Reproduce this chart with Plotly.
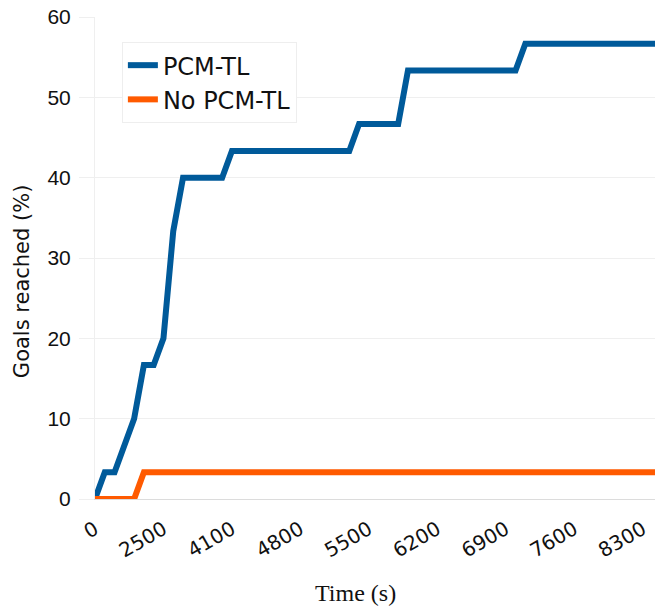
import plotly.graph_objects as go

# Elapsed time (s) at each sample; the axis treats them as evenly spaced categories
times = [
    0, 300, 700, 1000, 1400, 1800, 2200, 2500, 2800, 3100, 3400, 3600, 3800, 4000,
    4100, 4200, 4300, 4400, 4500, 4600, 4700, 4800, 4900, 5000, 5100, 5200, 5300,
    5400, 5500, 5600, 5700, 5800, 5900, 6000, 6100, 6200, 6300, 6400, 6500, 6600,
    6700, 6800, 6900, 7000, 7100, 7200, 7300, 7400, 7500, 7600, 7700, 7800, 7900,
    8000, 8100, 8200, 8300, 8400, 8500,
]

# Share of goals reached (%)
pcm_tl = [
    0, 3.33, 3.33, 6.67, 10, 16.67, 16.67, 20, 33.33,
    40, 40, 40, 40, 40,
    43.33, 43.33, 43.33, 43.33, 43.33, 43.33, 43.33, 43.33, 43.33, 43.33, 43.33, 43.33, 43.33,
    46.67, 46.67, 46.67, 46.67, 46.67,
    53.33, 53.33, 53.33, 53.33, 53.33, 53.33, 53.33, 53.33, 53.33, 53.33, 53.33, 53.33,
    56.67, 56.67, 56.67, 56.67, 56.67, 56.67, 56.67, 56.67, 56.67, 56.67, 56.67, 56.67,
    56.67, 56.67, 56.67,
]
no_pcm_tl = [
    0, 0, 0, 0, 0,
    3.33, 3.33, 3.33, 3.33, 3.33, 3.33, 3.33, 3.33, 3.33, 3.33, 3.33, 3.33, 3.33,
    3.33, 3.33, 3.33, 3.33, 3.33, 3.33, 3.33, 3.33, 3.33, 3.33, 3.33, 3.33, 3.33,
    3.33, 3.33, 3.33, 3.33, 3.33, 3.33, 3.33, 3.33, 3.33, 3.33, 3.33, 3.33, 3.33,
    3.33, 3.33, 3.33, 3.33, 3.33, 3.33, 3.33, 3.33, 3.33, 3.33, 3.33, 3.33, 3.33,
    3.33, 3.33,
]

tick_labels = ["0", "2500", "4100", "4800", "5500", "6200", "6900", "7600", "8300"]

x_cat = [str(t) for t in times]

fig = go.Figure()
fig.add_trace(go.Scatter(
    x=x_cat, y=pcm_tl, mode="lines", name="PCM-TL",
    line=dict(color="#005a9a", width=6),
))
fig.add_trace(go.Scatter(
    x=x_cat, y=no_pcm_tl, mode="lines", name="No PCM-TL",
    line=dict(color="#ff5a00", width=6),
))

# Axis titles placed as annotations
fig.add_annotation(
    text="Time (s)", xref="paper", yref="paper", x=0.466, y=-0.195,
    xanchor="center", yanchor="middle", showarrow=False,
    font=dict(family="Liberation Serif", size=24, color="#111111"),
)
fig.add_annotation(
    text="Goals reached (%)", xref="paper", yref="paper", x=0, y=0.452,
    xshift=-73, xanchor="center", yanchor="middle", textangle=-90, showarrow=False,
    font=dict(family="DejaVu Sans", size=21, color="#111111"),
)

fig.update_layout(
    width=655, height=607,
    margin=dict(l=95, r=0, t=17, b=108),
    paper_bgcolor="white", plot_bgcolor="white",
    showlegend=True,
    legend=dict(
        x=0.048, y=0.948, xanchor="left", yanchor="top",
        bgcolor="white", bordercolor="#eeeeee", borderwidth=1,
        font=dict(family="DejaVu Sans", size=24, color="#111111"),
        itemwidth=30,
    ),
    xaxis=dict(
        type="category",
        range=[0, 57.26],
        tickmode="array", tickvals=tick_labels, ticktext=tick_labels,
        tickangle=-30,
        tickfont=dict(family="DejaVu Sans", size=20, color="#111111"),
        ticklabelstandoff=10,
        showgrid=False, zeroline=False,
        showline=True, linecolor="#dcdcdc", linewidth=1,
    ),
    yaxis=dict(
        range=[0, 60], dtick=10,
        tickfont=dict(family="Liberation Sans", size=21, color="#111111"),
        ticks="outside", ticklen=15, tickcolor="#efefef", tickwidth=1,
        showgrid=True, gridcolor="#efefef", gridwidth=1,
        zeroline=False,
        showline=True, linecolor="#efefef", linewidth=1,
        ticklabelstandoff=4,
    ),
)

fig.write_html("out.html")
